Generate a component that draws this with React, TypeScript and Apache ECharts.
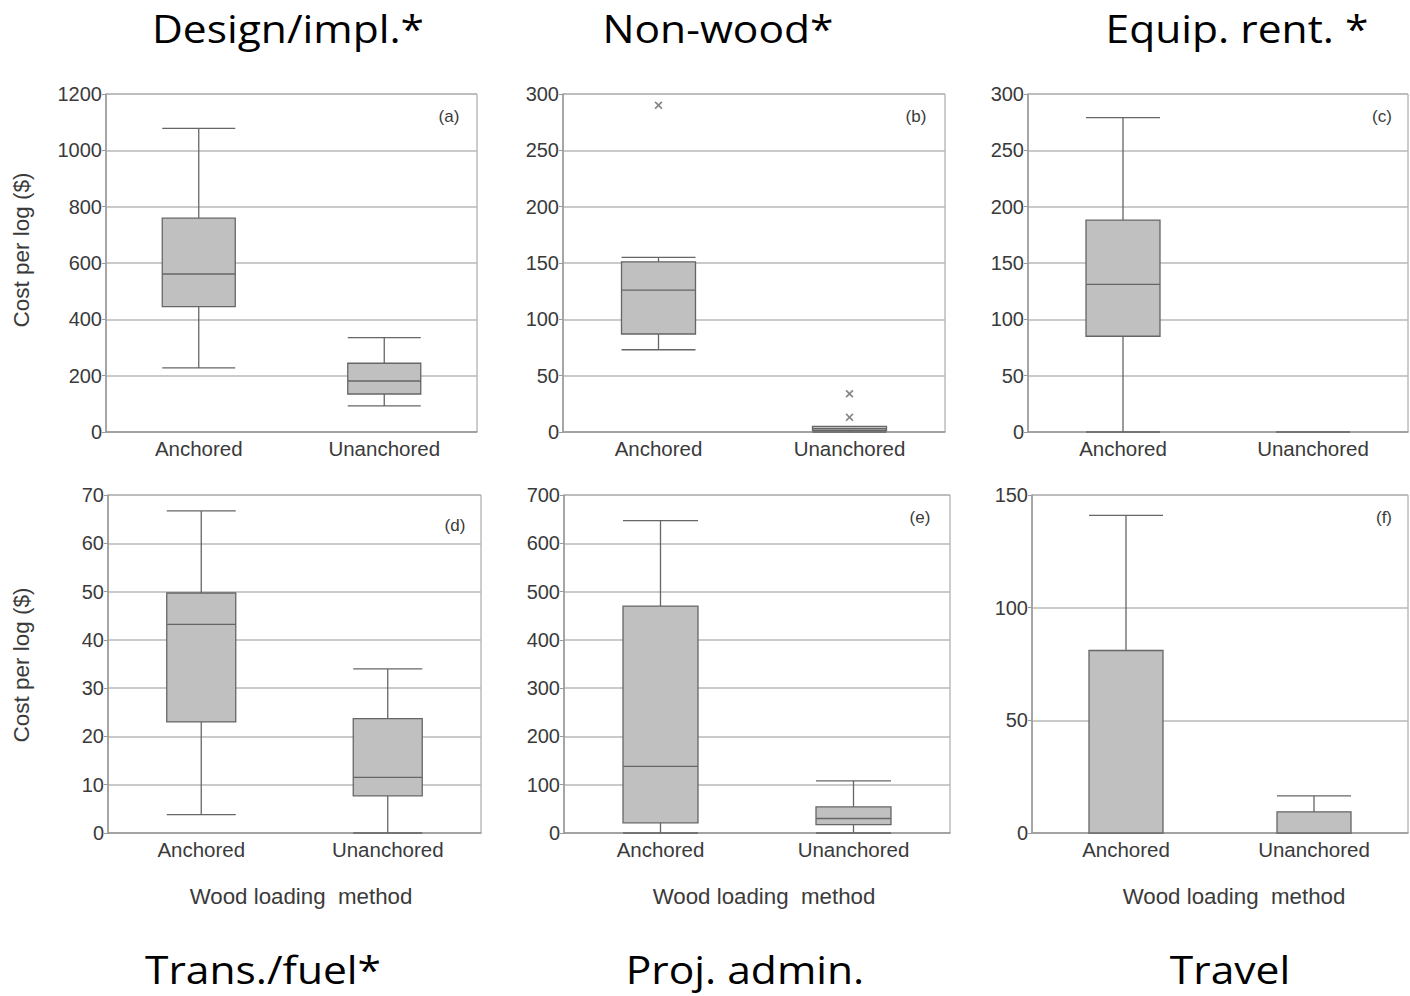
import React, { useEffect, useRef } from "react";
import * as echarts from "echarts";

const categories = ["Anchored", "Unanchored"];
// [min, Q1, median, Q3, max]
const designBox = [[228, 445, 561, 759, 1078], [93, 135, 181, 244, 335]];
const nonWoodBox = [[73, 87, 126, 151, 155], [0, 1.5, 3, 5, 5]];
const nonWoodOutliers = [["Anchored", 290], ["Unanchored", 34], ["Unanchored", 13]];
const equipBox = [[0, 85, 131, 188, 279], [0, 0, 0, 0, 0]];
const transBox = [[3.8, 23, 43.2, 49.7, 66.7], [0, 7.7, 11.5, 23.7, 34]];
const adminBox = [[0, 21, 138, 470, 647], [0, 17.5, 30, 54, 108]];
const travelBox = [[0, 0, 0, 81, 141], [0, 0, 0, 9.4, 16.5]];

const topTitles = ["Design/impl.*", "Non-wood*", "Equip. rent. *"];
const bottomTitles = ["Trans./fuel*", "Proj. admin.", "Travel"];
const panelLetters = ["(a)", "(b)", "(c)", "(d)", "(e)", "(f)"];
const yMax = [1200, 300, 300, 70, 700, 150];
const yStep = [200, 50, 50, 10, 100, 50];
const yTitle = "Cost per log ($)";
const xTitle = "Wood loading  method";

const boxes = [designBox, nonWoodBox, equipBox, transBox, adminBox, travelBox];

const grids = [
  { left: 106, top: 94, width: 371, height: 338, bw: 73 },
  { left: 563, top: 94, width: 382, height: 338, bw: 74 },
  { left: 1028, top: 94, width: 380, height: 338, bw: 74 },
  { left: 108, top: 495, width: 373, height: 338, bw: 69 },
  { left: 564, top: 495, width: 386, height: 338, bw: 75 },
  { left: 1032, top: 495, width: 376, height: 338, bw: 74 },
];

const FONT = "Liberation Sans";
const TXT = "#3a3a3a";

export default function App() {
  const ref = useRef<HTMLDivElement>(null);
  useEffect(() => {
    if (!ref.current) return;
    const chart = echarts.init(ref.current, undefined, { renderer: "svg" });
    const grid = grids.map((g) => ({
      left: g.left,
      top: g.top,
      width: g.width,
      height: g.height,
      show: true,
      borderColor: "#9a9a9a",
      borderWidth: 1,
      backgroundColor: "#fff",
    }));
    const xAxis = grids.map((_, i) => ({
      type: "category",
      gridIndex: i,
      data: categories,
      axisLine: { show: true, lineStyle: { color: "#9a9a9a", width: 1.5 } },
      axisTick: { show: false },
      axisLabel: { color: TXT, fontFamily: FONT, fontSize: 20.5, margin: 6 },
      splitLine: { show: false },
    }));
    const yAxis = grids.map((_, i) => ({
      type: "value",
      gridIndex: i,
      min: 0,
      max: yMax[i],
      interval: yStep[i],
      axisLine: { show: true, lineStyle: { color: "#9a9a9a", width: 1.5 } },
      axisTick: { show: true, length: 4, lineStyle: { color: "#9a9a9a" } },
      axisLabel: {
        color: TXT, fontFamily: FONT, fontSize: 20, margin: 4,
        formatter: (v: number) => String(v),
      },
      splitLine: { show: true, lineStyle: { color: "#b8b8b8", width: 1.5 } },
    }));
    const series: any[] = boxes.map((b, i) => ({
      type: "boxplot",
      xAxisIndex: i,
      yAxisIndex: i,
      data: b,
      boxWidth: [grids[i].bw, grids[i].bw],
      itemStyle: { color: "#c0c0c0", borderColor: "#666", borderWidth: 1.3 },
      emphasis: { disabled: true },
    }));
    series.push({
      type: "scatter",
      xAxisIndex: 1,
      yAxisIndex: 1,
      data: nonWoodOutliers,
      symbol:
        "path://M1.5,0 L5,3.5 L8.5,0 L10,1.5 L6.5,5 L10,8.5 L8.5,10 L5,6.5 L1.5,10 L0,8.5 L3.5,5 L0,1.5 Z",
      symbolSize: 8,
      itemStyle: { color: "#666" },
      z: 5,
    });
    const graphic: any[] = [];
    const titleStyle = { fontFamily: "Open Sans", fontSize: 38, fill: "#000" };
    const topX = [288, 718, 1237];
    const botX = [263, 745, 1230];
    topTitles.forEach((t, i) =>
      graphic.push({
        type: "text",
        x: topX[i],
        y: 28,
        scaleX: 1.12,
        style: { ...titleStyle, text: t, textAlign: "center", textVerticalAlign: "middle" },
      })
    );
    bottomTitles.forEach((t, i) =>
      graphic.push({
        type: "text",
        x: botX[i],
        y: 969,
        scaleX: 1.12,
        style: { ...titleStyle, text: t, textAlign: "center", textVerticalAlign: "middle" },
      })
    );
    const letterPos = [
      [449, 116], [916, 116], [1382, 116],
      [455, 525], [920, 517], [1384, 517],
    ];
    panelLetters.forEach((t, i) =>
      graphic.push({
        type: "text",
        x: letterPos[i][0],
        y: letterPos[i][1],
        style: {
          text: t, fontFamily: FONT, fontSize: 17, fill: TXT,
          textAlign: "center", textVerticalAlign: "middle",
        },
      })
    );
    [250, 665].forEach((y) =>
      graphic.push({
        type: "text",
        x: 21,
        y,
        rotation: Math.PI / 2,
        style: {
          text: yTitle, fontFamily: FONT, fontSize: 22.5, fill: TXT,
          textAlign: "center", textVerticalAlign: "middle",
        },
      })
    );
    [301, 764, 1234].forEach((x) =>
      graphic.push({
        type: "text",
        x,
        y: 896,
        style: {
          text: xTitle, fontFamily: FONT, fontSize: 22.3, fill: TXT,
          textAlign: "center", textVerticalAlign: "middle",
        },
      })
    );
    chart.setOption({
      animation: false,
      backgroundColor: "#fff",
      grid,
      xAxis,
      yAxis,
      series,
      graphic,
    });
    return () => chart.dispose();
  }, []);
  return (
    <div
      ref={ref}
      style={{ position: "absolute", left: 0, top: 0, width: 1410, height: 996 }}
    />
  );
}
